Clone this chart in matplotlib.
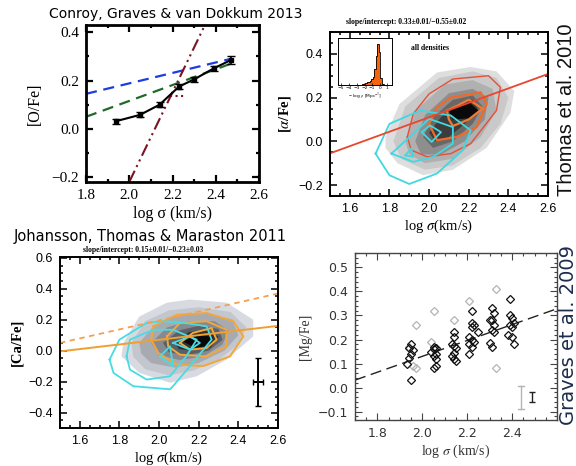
import numpy as np
import matplotlib
matplotlib.use("Agg")
import matplotlib.pyplot as plt
from matplotlib.ticker import MultipleLocator

plt.rcParams["mathtext.fontset"] = "stix"

# ---- panel 1: Conroy, Graves & van Dokkum 2013 ----
cgv_sigma = [1.94, 2.05, 2.14, 2.23, 2.30, 2.39, 2.47]
cgv_ofe = [0.032, 0.058, 0.100, 0.175, 0.205, 0.250, 0.285]
cgv_err = [0.010, 0.010, 0.010, 0.012, 0.010, 0.012, 0.015]
blue_x, blue_y = [1.80, 2.47], [0.145, 0.29]
green_x, green_y = [1.80, 2.47], [0.05, 0.27]
red_x, red_y = [2.00, 2.35], [-0.22, 0.43]
reddot_x, reddot_y = [2.19, 2.26], [0.135, 0.135]

# ---- panel 2: Thomas et al. 2010 ----
thomas_gray = [
    [(1.78, -0.03), (1.78, 0.02), (1.85, 0.17), (2.04, 0.315), (2.21, 0.34), (2.34, 0.32),
     (2.43, 0.23), (2.41, 0.13), (2.29, -0.03), (2.12, -0.13), (1.97, -0.155), (1.84, -0.10)],
    [(1.82, 0.0), (1.88, 0.16), (2.05, 0.29), (2.22, 0.32), (2.34, 0.29), (2.40, 0.20),
     (2.36, 0.08), (2.26, -0.03), (2.12, -0.11), (1.98, -0.13), (1.86, -0.08)],
    [(1.88, 0.0), (1.93, 0.14), (2.08, 0.26), (2.22, 0.28), (2.32, 0.24), (2.34, 0.14),
     (2.26, 0.02), (2.12, -0.08), (1.98, -0.10), (1.90, -0.06)],
    [(1.93, 0.0), (1.98, 0.12), (2.10, 0.22), (2.22, 0.24), (2.30, 0.20), (2.28, 0.10),
     (2.18, 0.0), (2.06, -0.06), (1.96, -0.06)],
    [(1.97, 0.02), (2.02, 0.11), (2.12, 0.19), (2.22, 0.21), (2.27, 0.16), (2.22, 0.08),
     (2.12, 0.0), (2.02, -0.03)],
    [(2.0, 0.04), (2.06, 0.11), (2.14, 0.17), (2.22, 0.19), (2.25, 0.14), (2.18, 0.08),
     (2.10, 0.02), (2.03, 0.0)],
    [(2.1, 0.14), (2.2, 0.18), (2.25, 0.14), (2.2, 0.105), (2.12, 0.10)],
]
thomas_gray_colors = ["#dedede", "#c9c9c9", "#b0b0b0", "#8e8e8e", "#686868", "#3c3c3c", "#0a0a0a"]
thomas_red = [
    [(1.89, 0.02), (1.92, 0.126), (2.0, 0.217), (2.12, 0.285), (2.30, 0.30), (2.36, 0.247),
     (2.34, 0.141), (2.21, -0.01), (2.11, -0.056), (1.99, -0.071), (1.91, -0.04)],
    [(2.0, 0.08), (2.04, 0.156), (2.11, 0.20), (2.26, 0.224), (2.29, 0.171), (2.24, 0.065),
     (2.14, 0.02), (2.04, 0.005)],
    [(2.09, 0.14), (2.2, 0.19), (2.27, 0.15), (2.2, 0.10), (2.12, 0.07), (2.1, 0.1)],
]
thomas_red_colors = ["#e4503a", "#ee6a2a", "#f07a30"]
thomas_cyan = [
    [(1.73, -0.056), (1.80, 0.08), (1.955, 0.141), (2.11, 0.118), (2.21, 0.05), (2.17, -0.041),
     (2.04, -0.147), (1.90, -0.195), (1.80, -0.155)],
    [(1.81, -0.056), (1.92, 0.035), (2.0, 0.103), (2.12, 0.065), (2.12, -0.01), (2.02, -0.071),
     (1.92, -0.094)],
    [(1.963, 0.042), (2.005, 0.073), (2.06, 0.042), (2.013, -0.003)],
    [(1.88, -0.064), (1.91, -0.033), (1.92, -0.071)],
]
thomas_slope, thomas_icpt = 0.33, -0.55
hist_edges = [-2.5, -2.3, -2.1, -1.9, -1.7, -1.5, -1.3, -1.1, -0.9, -0.7, -0.5, -0.3, -0.1, 0.1, 0.3, 0.5]
hist_vals = [0.01, 0.02, 0.03, 0.04, 0.06, 0.07, 0.09, 0.12, 0.18, 0.35, 0.62, 0.88, 0.70, 0.15, 0.02]

# ---- panel 3: Johansson, Thomas & Maraston 2011 ----
jtm_gray = [
    [(1.82, 0.05), (1.90, 0.22), (2.04, 0.31), (2.156, 0.33), (2.34, 0.31), (2.475, 0.20),
     (2.475, 0.092), (2.34, -0.058), (2.19, -0.166), (2.055, -0.208), (1.90, -0.144), (1.81, -0.037)],
    [(1.86, 0.05), (1.93, 0.19), (2.05, 0.26), (2.2, 0.28), (2.36, 0.25), (2.44, 0.15),
     (2.4, 0.04), (2.3, -0.06), (2.17, -0.13), (2.05, -0.16), (1.93, -0.12), (1.87, -0.04)],
    [(1.9, 0.05), (1.98, 0.17), (2.1, 0.23), (2.25, 0.24), (2.37, 0.2), (2.4, 0.1),
     (2.33, 0.0), (2.2, -0.08), (2.08, -0.11), (1.96, -0.08), (1.91, -0.02)],
    [(1.96, 0.05), (2.04, 0.15), (2.15, 0.19), (2.28, 0.19), (2.35, 0.13), (2.32, 0.04),
     (2.22, -0.04), (2.1, -0.06), (2.0, -0.03)],
    [(2.02, 0.05), (2.1, 0.13), (2.2, 0.16), (2.3, 0.14), (2.32, 0.07), (2.25, 0.0),
     (2.14, -0.03), (2.05, -0.01)],
    [(2.08, 0.05), (2.15, 0.12), (2.24, 0.13), (2.3, 0.09), (2.26, 0.02), (2.16, 0.0), (2.1, 0.01)],
    [(2.12, 0.06), (2.2, 0.10), (2.27, 0.09), (2.26, 0.03), (2.18, 0.02)],
]
jtm_gray_colors = ["#d7dbe1", "#c3c7cd", "#a7abb1", "#868a90", "#5c6066", "#303236", "#080808"]
jtm_orange = [
    [(1.97, 0.157), (2.09, 0.232), (2.24, 0.243), (2.375, 0.19), (2.425, 0.092), (2.358, -0.037),
     (2.223, -0.10), (2.089, -0.09), (1.996, -0.015), (1.96, 0.07)],
    [(2.04, 0.092), (2.105, 0.179), (2.24, 0.19), (2.34, 0.135), (2.34, 0.028), (2.24, -0.037),
     (2.105, -0.026), (2.046, 0.028)],
    [(2.105, 0.05), (2.17, 0.114), (2.265, 0.146), (2.29, 0.071), (2.24, 0.017), (2.156, 0.006)],
]
jtm_cyan = [
    [(1.75, -0.058), (1.80, 0.071), (1.937, 0.179), (2.02, 0.19), (2.15, 0.175), (2.24, 0.157),
     (2.265, 0.071), (2.156, -0.10), (2.07, -0.23), (2.055, -0.25), (1.87, -0.23), (1.77, -0.144)],
    [(1.836, -0.037), (1.853, 0.071), (1.97, 0.135), (2.07, 0.135), (2.19, 0.071), (2.137, -0.037),
     (2.055, -0.166), (1.937, -0.187), (1.853, -0.123)],
    [(2.07, 0.05), (2.156, 0.092), (2.206, 0.05), (2.156, 0.006)],
    [(2.005, -0.037), (2.055, 0.028), (2.07, -0.10)],
]
jtm_slope, jtm_icpt = 0.15, -0.23
jtm_dash_slope, jtm_dash_icpt = 0.29, -0.385
jtm_err = dict(x=2.5, y=-0.2, xerr=0.025, yerr=0.155)

# ---- panel 4: Graves et al. 2009 ----
gr_black_x = [1.95, 1.94, 1.96, 1.95, 1.94, 1.93, 1.95,
              2.05, 2.06, 2.05, 2.04, 2.06, 2.05, 2.06, 2.06, 2.05,
              2.14, 2.14, 2.13, 2.14, 2.15, 2.14, 2.13, 2.14, 2.15,
              2.22, 2.22, 2.23, 2.22, 2.21, 2.22, 2.23, 2.21, 2.22, 2.21, 2.25,
              2.31, 2.32, 2.31, 2.30, 2.32, 2.31, 2.32, 2.30, 2.31,
              2.39, 2.39, 2.40, 2.41, 2.39, 2.40, 2.38, 2.40, 2.41]
gr_black_y = [0.18, 0.165, 0.155, 0.14, 0.125, 0.10, 0.03,
              0.17, 0.165, 0.16, 0.15, 0.14, 0.13, 0.12, 0.09, 0.08,
              0.23, 0.21, 0.18, 0.175, 0.165, 0.145, 0.13, 0.12, 0.11,
              0.32, 0.27, 0.26, 0.25, 0.21, 0.20, 0.19, 0.18, 0.17, 0.14, 0.23,
              0.33, 0.31, 0.28, 0.28, 0.26, 0.24, 0.23, 0.185, 0.17,
              0.37, 0.30, 0.29, 0.27, 0.26, 0.25, 0.22, 0.21, 0.18]
gr_gray_x = [1.94, 1.96, 1.97, 1.97, 2.05, 2.04, 2.14, 2.21, 2.33, 2.33]
gr_gray_y = [0.17, 0.09, 0.08, 0.26, 0.32, 0.19, 0.28, 0.36, 0.41, 0.08]
gr_fit_x, gr_fit_y = [1.7, 2.6], [0.031, 0.328]
gr_err_gray = dict(x=2.44, ylo=-0.09, yhi=0.005)
gr_err_black = dict(x=2.49, ylo=-0.062, yhi=-0.02)


fig = plt.figure(figsize=(5.76, 4.66), dpi=100)
W, H = 576.0, 466.0


def box(l, t, r, b):
    return [l / W, 1 - b / H, (r - l) / W, (b - t) / H]


def idl_ticks(ax, xmaj, xmin, ymaj, ymin, size=8.5, lw=1.3, color="black"):
    ax.xaxis.set_major_locator(MultipleLocator(xmaj))
    ax.xaxis.set_minor_locator(MultipleLocator(xmin))
    ax.yaxis.set_major_locator(MultipleLocator(ymaj))
    ax.yaxis.set_minor_locator(MultipleLocator(ymin))
    ax.tick_params(which="both", direction="in", top=True, right=True, width=lw * 0.8, color=color)
    ax.tick_params(which="major", length=5, labelsize=size, pad=5)
    ax.tick_params(which="minor", length=2.5)
    for s in ax.spines.values():
        s.set_linewidth(lw)
        s.set_color(color)


# panel 1
ax1 = fig.add_axes(box(86, 25, 259, 182))
ax1.plot(blue_x, blue_y, color="#1d3de0", ls=(0, (5, 3)), lw=1.6)
ax1.plot(green_x, green_y, color="#1f6a2a", ls=(0, (5, 3)), lw=1.6)
ax1.plot(red_x, red_y, color="#7a1424", ls=(0, (6, 2, 1, 2, 1, 2)), lw=1.5)
ax1.plot(reddot_x, reddot_y, color="#7a1424", ls=":", lw=1.5)
ax1.errorbar(cgv_sigma, cgv_ofe, yerr=cgv_err, color="black", marker="s", ms=3.5,
             lw=1.5, capsize=3, elinewidth=1.2)
ax1.set_xlim(1.8, 2.6)
ax1.set_ylim(-0.22, 0.43)
idl_ticks(ax1, 0.2, 0.1, 0.2, 0.1, size=11, lw=2.0)
ax1.set_xticks([1.8, 2.0, 2.2, 2.4, 2.6])
ax1.set_xticklabels(["1.8", "2.0", "2.2", "2.4", "2.6"], family="Liberation Serif", fontsize=11)
ax1.set_yticks([-0.2, 0.0, 0.2, 0.4])
ax1.set_yticklabels(["\u22120.2", "0.0", "0.2", "0.4"], family="Liberation Serif", fontsize=11)
ax1.set_xlabel("log \u03c3 (km/s)", family="Liberation Serif", fontsize=11.5, labelpad=3)
ax1.set_ylabel("[O/Fe]", family="Liberation Serif", fontsize=11.5, labelpad=6)

# panel 2
ax2 = fig.add_axes(box(330, 32, 548, 196))
for poly, c in zip(thomas_gray, thomas_gray_colors):
    xs, ys = zip(*poly)
    ax2.fill(xs, ys, color=c, lw=0)
for poly, c, w in zip(thomas_red, thomas_red_colors, [1.0, 1.6, 1.6]):
    xs, ys = zip(*(poly + poly[:1]))
    ax2.plot(xs, ys, color=c, lw=w)
for poly in thomas_cyan:
    xs, ys = zip(*(poly + poly[:1]))
    ax2.plot(xs, ys, color="#40d8e2", lw=1.3)
lx = np.array([1.5, 2.6])
ax2.plot(lx, thomas_slope * lx + thomas_icpt, color="#e8462e", lw=1.3)
ax2.set_xlim(1.5, 2.6)
ax2.set_ylim(-0.25, 0.5)
idl_ticks(ax2, 0.2, 0.05, 0.2, 0.05, size=9, lw=1.4)
ax2.set_xticks([1.6, 1.8, 2.0, 2.2, 2.4, 2.6])
ax2.set_xticklabels(["1.6", "1.8", "2.0", "2.2", "2.4", "2.6"], family="Liberation Sans")
ax2.set_yticks([-0.2, 0.0, 0.2, 0.4])
ax2.set_yticklabels(["\u22120.2", "0.0", "0.2", "0.4"], family="Liberation Sans")
ax2.set_xlabel(r"log $\sigma$(km/s)", family="Liberation Serif", fontsize=10.5, labelpad=2)
ax2.set_ylabel(r"[$\alpha$/Fe]", family="Liberation Serif", fontsize=10.5, fontweight="bold", labelpad=4)
fig.text(406 / W, 1 - 22 / H, "slope/intercept: 0.33\u00b10.01/\u22120.55\u00b10.02",
         ha="center", va="center", fontsize=5.5, family="Liberation Serif", fontweight="bold")
ax2.text(0.37, 0.9, "all densities", transform=ax2.transAxes, fontsize=5.5,
         family="Liberation Serif", fontweight="bold", va="center")

axi = fig.add_axes(box(338, 38, 392, 85))
axi.stairs(hist_vals, hist_edges, fill=True, color="#f4640e")
axi.stairs(hist_vals, hist_edges, color="black", lw=0.6)
axi.set_xlim(-5.4, 1.6)
axi.set_ylim(0, 1.0)
axi.set_yticks([])
axi.set_xticks([-5, -4, -3, -2, -1, 0, 1])
axi.tick_params(axis="x", direction="in", length=1.5, labelsize=3.2, pad=1, width=0.5)
axi.set_xlabel(r"$-$ log $\rho$ [Mpc$^{-3}$]", fontsize=3.2, labelpad=0.5)
for s in axi.spines.values():
    s.set_linewidth(0.7)

fig.text(566 / W, 1 - 110 / H, "Thomas et al. 2010", rotation=90, ha="center", va="center",
         fontsize=14.5, family="Liberation Sans", color="#111111")

# panel 3
ax3 = fig.add_axes(box(60, 257, 278, 428))
for poly, c in zip(jtm_gray, jtm_gray_colors):
    xs, ys = zip(*poly)
    ax3.fill(xs, ys, color=c, lw=0)
for poly in jtm_orange:
    xs, ys = zip(*(poly + poly[:1]))
    ax3.plot(xs, ys, color="#f2a73a", lw=1.4)
for poly in jtm_cyan:
    xs, ys = zip(*(poly + poly[:1]))
    ax3.plot(xs, ys, color="#48dce2", lw=1.3)
ax3.plot(lx, jtm_slope * lx + jtm_icpt, color="#f0a030", lw=1.4)
ax3.plot(lx, jtm_dash_slope * lx + jtm_dash_icpt, color="#f4a050", lw=1.3, ls=(0, (3, 2.5)))
ax3.errorbar(jtm_err["x"], jtm_err["y"], xerr=jtm_err["xerr"], yerr=jtm_err["yerr"],
             color="black", lw=1.4, capsize=2)
ax3.set_xlim(1.5, 2.6)
ax3.set_ylim(-0.5, 0.605)
idl_ticks(ax3, 0.2, 0.05, 0.2, 0.05, size=9, lw=1.4)
ax3.set_xticks([1.6, 1.8, 2.0, 2.2, 2.4, 2.6])
ax3.set_xticklabels(["1.6", "1.8", "2.0", "2.2", "2.4", "2.6"], family="Liberation Sans")
ax3.set_yticks([-0.4, -0.2, 0.0, 0.2, 0.4, 0.6])
ax3.set_yticklabels(["\u22120.4", "\u22120.2", "0.0", "0.2", "0.4", "0.6"], family="Liberation Sans")
ax3.set_xlabel(r"log $\sigma$(km/s)", family="Liberation Serif", fontsize=10.5, labelpad=2)
ax3.set_ylabel("[Ca/Fe]", family="Liberation Serif", fontsize=10.5, fontweight="bold", labelpad=4)
fig.text(143 / W, 1 - 250 / H, "slope/intercept: 0.15\u00b10.01/\u22120.23\u00b10.03",
         ha="center", va="center", fontsize=5.5, family="Liberation Serif", fontweight="bold")

# panel 4
ax4 = fig.add_axes(box(355, 253, 557, 420))
ax4.plot(gr_fit_x, gr_fit_y, color="#222222", lw=1.0, ls=(0, (8, 4)))
ax4.plot(gr_gray_x, gr_gray_y, ls="none", marker="D", ms=4, mfc="none", mec="#b4b4b4", mew=0.9)
ax4.plot(gr_black_x, gr_black_y, ls="none", marker="D", ms=4, mfc="none", mec="#111111", mew=0.9)
gx = gr_err_gray["x"]
ax4.plot([gx, gx], [gr_err_gray["ylo"], gr_err_gray["yhi"]], color="#b4b4b4", lw=1.0)
ax4.plot([gx - 0.012, gx + 0.012], [gr_err_gray["ylo"]] * 2, color="#b4b4b4", lw=1.0)
ax4.plot([gx - 0.012, gx + 0.012], [gr_err_gray["yhi"]] * 2, color="#b4b4b4", lw=1.0)
ax4.errorbar(gr_err_black["x"], (gr_err_black["ylo"] + gr_err_black["yhi"]) / 2,
             yerr=(gr_err_black["yhi"] - gr_err_black["ylo"]) / 2, color="#222222", lw=1.0, capsize=2)
ax4.set_xlim(1.7, 2.6)
ax4.set_ylim(-0.135, 0.56)
idl_ticks(ax4, 0.2, 0.05, 0.1, 0.02, size=9, lw=1.0, color="#444444")
ax4.set_xticks([1.8, 2.0, 2.2, 2.4])
ax4.set_xticklabels(["1.8", "2.0", "2.2", "2.4"], family="DejaVu Sans", color="#333333")
ax4.set_yticks([-0.1, 0.0, 0.1, 0.2, 0.3, 0.4, 0.5])
ax4.set_yticklabels(["\u22120.1", "0.0", "0.1", "0.2", "0.3", "0.4", "0.5"], family="DejaVu Sans", color="#333333")
ax4.set_xlabel(r"log $\sigma$ (km/s)", family="Liberation Serif", fontsize=10, labelpad=2, color="#333333")
ax4.set_ylabel("[Mg/Fe]", family="Liberation Serif", fontsize=10, labelpad=4, color="#333333")
fig.text(568 / W, 1 - 335 / H, "Graves et al. 2009", rotation=90, ha="center", va="center",
         fontsize=14, family="DejaVu Sans", color="#1c2c4c")

# titles
fig.text(176 / W, 1 - 14 / H, "Conroy, Graves & van Dokkum 2013", ha="center", va="center",
         fontsize=10, family="DejaVu Sans")
fig.text(150 / W, 1 - 237 / H, "Johansson, Thomas & Maraston 2011", ha="center", va="center",
         fontsize=10.5, family="DejaVu Sans")

fig.savefig("out.png", dpi=100)
